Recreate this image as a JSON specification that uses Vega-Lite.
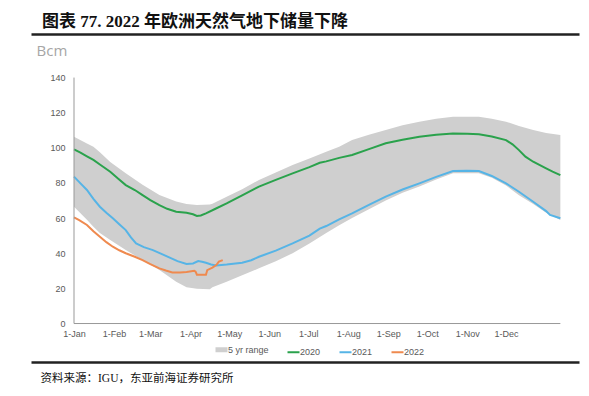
{
  "$schema": "https://vega.github.io/schema/vega-lite/v6.json",
  "width": 548,
  "height": 328,
  "autosize": {"type": "none"},
  "padding": {"left": 31, "top": 34, "right": 10, "bottom": 34},
  "background": "white",
  "title": {
    "text": "图表 77. 2022 年欧洲天然气地下储量下降",
    "anchor": "start",
    "frame": "group",
    "dx": 11,
    "offset": 3,
    "font": "'Liberation Serif', 'Noto Sans CJK SC'",
    "fontSize": 17,
    "fontWeight": "bold",
    "color": "#111111"
  },
  "datasets": {
    "band": [
      {"date": "2022-01-01", "lo": 66.5, "hi": 106.3},
      {"date": "2022-01-11", "lo": 59.0, "hi": 102.5},
      {"date": "2022-01-16", "lo": 55.1, "hi": 100.6},
      {"date": "2022-01-21", "lo": 51.5, "hi": 97.5},
      {"date": "2022-01-29", "lo": 47.5, "hi": 92.0},
      {"date": "2022-02-10", "lo": 41.8, "hi": 85.5},
      {"date": "2022-02-23", "lo": 36.1, "hi": 79.0},
      {"date": "2022-03-08", "lo": 30.4, "hi": 73.1},
      {"date": "2022-03-21", "lo": 23.8, "hi": 69.5},
      {"date": "2022-03-29", "lo": 20.6, "hi": 68.0},
      {"date": "2022-04-06", "lo": 19.8, "hi": 67.4},
      {"date": "2022-04-16", "lo": 19.5, "hi": 67.8},
      {"date": "2022-04-18", "lo": 20.6, "hi": 68.2},
      {"date": "2022-04-29", "lo": 23.8, "hi": 72.2},
      {"date": "2022-05-11", "lo": 27.5, "hi": 76.5},
      {"date": "2022-05-24", "lo": 31.4, "hi": 81.7},
      {"date": "2022-06-06", "lo": 35.5, "hi": 86.0},
      {"date": "2022-06-19", "lo": 40.0, "hi": 90.2},
      {"date": "2022-07-02", "lo": 45.5, "hi": 94.0},
      {"date": "2022-07-15", "lo": 51.5, "hi": 97.8},
      {"date": "2022-07-25", "lo": 56.0, "hi": 100.6},
      {"date": "2022-08-04", "lo": 60.0, "hi": 104.4},
      {"date": "2022-08-17", "lo": 65.0, "hi": 107.5},
      {"date": "2022-08-30", "lo": 70.0, "hi": 110.1},
      {"date": "2022-09-12", "lo": 74.5, "hi": 112.8},
      {"date": "2022-09-25", "lo": 78.0, "hi": 114.9},
      {"date": "2022-10-08", "lo": 82.0, "hi": 116.5},
      {"date": "2022-10-21", "lo": 85.5, "hi": 117.7},
      {"date": "2022-11-10", "lo": 85.5, "hi": 117.7},
      {"date": "2022-11-20", "lo": 83.0, "hi": 116.5},
      {"date": "2022-12-01", "lo": 78.5, "hi": 114.9},
      {"date": "2022-12-11", "lo": 73.0, "hi": 112.5},
      {"date": "2022-12-22", "lo": 68.0, "hi": 110.1},
      {"date": "2023-01-01", "lo": 63.0, "hi": 108.5},
      {"date": "2023-01-12", "lo": 58.9, "hi": 107.3}
    ],
    "lines": [
      {"date": "2022-01-01", "series": "2020", "value": 99.1},
      {"date": "2022-01-06", "series": "2020", "value": 97.3},
      {"date": "2022-01-11", "series": "2020", "value": 95.2},
      {"date": "2022-01-16", "series": "2020", "value": 93.1},
      {"date": "2022-01-21", "series": "2020", "value": 90.5},
      {"date": "2022-01-29", "series": "2020", "value": 86.4},
      {"date": "2022-02-04", "series": "2020", "value": 82.5},
      {"date": "2022-02-10", "series": "2020", "value": 78.8},
      {"date": "2022-02-17", "series": "2020", "value": 76.0},
      {"date": "2022-02-23", "series": "2020", "value": 73.1},
      {"date": "2022-03-01", "series": "2020", "value": 70.3},
      {"date": "2022-03-08", "series": "2020", "value": 67.4},
      {"date": "2022-03-14", "series": "2020", "value": 65.3},
      {"date": "2022-03-21", "series": "2020", "value": 63.6},
      {"date": "2022-03-29", "series": "2020", "value": 63.1},
      {"date": "2022-04-03", "series": "2020", "value": 62.2},
      {"date": "2022-04-06", "series": "2020", "value": 61.2},
      {"date": "2022-04-09", "series": "2020", "value": 61.5},
      {"date": "2022-04-13", "series": "2020", "value": 62.7},
      {"date": "2022-04-20", "series": "2020", "value": 65.2},
      {"date": "2022-04-29", "series": "2020", "value": 68.4},
      {"date": "2022-05-11", "series": "2020", "value": 73.0},
      {"date": "2022-05-24", "series": "2020", "value": 77.9},
      {"date": "2022-06-06", "series": "2020", "value": 81.8},
      {"date": "2022-06-19", "series": "2020", "value": 85.5},
      {"date": "2022-07-02", "series": "2020", "value": 89.0},
      {"date": "2022-07-10", "series": "2020", "value": 91.5},
      {"date": "2022-07-15", "series": "2020", "value": 92.3},
      {"date": "2022-07-25", "series": "2020", "value": 94.3},
      {"date": "2022-08-04", "series": "2020", "value": 95.9},
      {"date": "2022-08-17", "series": "2020", "value": 99.3},
      {"date": "2022-08-30", "series": "2020", "value": 102.6},
      {"date": "2022-09-12", "series": "2020", "value": 104.6},
      {"date": "2022-09-25", "series": "2020", "value": 106.3},
      {"date": "2022-10-08", "series": "2020", "value": 107.4},
      {"date": "2022-10-21", "series": "2020", "value": 108.2},
      {"date": "2022-11-01", "series": "2020", "value": 108.0},
      {"date": "2022-11-10", "series": "2020", "value": 107.7},
      {"date": "2022-11-20", "series": "2020", "value": 106.5},
      {"date": "2022-12-01", "series": "2020", "value": 104.4},
      {"date": "2022-12-06", "series": "2020", "value": 102.0},
      {"date": "2022-12-11", "series": "2020", "value": 98.7},
      {"date": "2022-12-16", "series": "2020", "value": 95.0},
      {"date": "2022-12-22", "series": "2020", "value": 92.1},
      {"date": "2023-01-01", "series": "2020", "value": 88.3},
      {"date": "2023-01-06", "series": "2020", "value": 86.5},
      {"date": "2023-01-12", "series": "2020", "value": 84.5},
      {"date": "2022-01-01", "series": "2021", "value": 83.6},
      {"date": "2022-01-06", "series": "2021", "value": 79.8},
      {"date": "2022-01-11", "series": "2021", "value": 76.0},
      {"date": "2022-01-16", "series": "2021", "value": 71.0},
      {"date": "2022-01-21", "series": "2021", "value": 66.5},
      {"date": "2022-01-26", "series": "2021", "value": 63.0},
      {"date": "2022-01-31", "series": "2021", "value": 59.9},
      {"date": "2022-02-05", "series": "2021", "value": 56.5},
      {"date": "2022-02-10", "series": "2021", "value": 53.2},
      {"date": "2022-02-14", "series": "2021", "value": 49.0},
      {"date": "2022-02-18", "series": "2021", "value": 45.6},
      {"date": "2022-02-24", "series": "2021", "value": 43.5},
      {"date": "2022-03-03", "series": "2021", "value": 41.8},
      {"date": "2022-03-10", "series": "2021", "value": 39.5},
      {"date": "2022-03-16", "series": "2021", "value": 37.5},
      {"date": "2022-03-22", "series": "2021", "value": 35.5},
      {"date": "2022-03-29", "series": "2021", "value": 33.9},
      {"date": "2022-04-03", "series": "2021", "value": 34.2},
      {"date": "2022-04-07", "series": "2021", "value": 35.6},
      {"date": "2022-04-10", "series": "2021", "value": 35.2},
      {"date": "2022-04-13", "series": "2021", "value": 34.6},
      {"date": "2022-04-17", "series": "2021", "value": 33.6},
      {"date": "2022-04-21", "series": "2021", "value": 33.1},
      {"date": "2022-04-29", "series": "2021", "value": 33.6},
      {"date": "2022-05-11", "series": "2021", "value": 34.6},
      {"date": "2022-05-18", "series": "2021", "value": 36.0},
      {"date": "2022-05-24", "series": "2021", "value": 38.0},
      {"date": "2022-06-06", "series": "2021", "value": 41.5},
      {"date": "2022-06-19", "series": "2021", "value": 45.6},
      {"date": "2022-07-02", "series": "2021", "value": 50.0},
      {"date": "2022-07-10", "series": "2021", "value": 54.0},
      {"date": "2022-07-15", "series": "2021", "value": 55.5},
      {"date": "2022-07-25", "series": "2021", "value": 59.3},
      {"date": "2022-08-04", "series": "2021", "value": 62.7},
      {"date": "2022-08-17", "series": "2021", "value": 67.5},
      {"date": "2022-08-30", "series": "2021", "value": 72.2},
      {"date": "2022-09-12", "series": "2021", "value": 76.3},
      {"date": "2022-09-25", "series": "2021", "value": 79.8},
      {"date": "2022-10-08", "series": "2021", "value": 83.5},
      {"date": "2022-10-21", "series": "2021", "value": 86.8},
      {"date": "2022-11-01", "series": "2021", "value": 87.0},
      {"date": "2022-11-10", "series": "2021", "value": 86.8},
      {"date": "2022-11-20", "series": "2021", "value": 84.0},
      {"date": "2022-12-01", "series": "2021", "value": 79.8},
      {"date": "2022-12-11", "series": "2021", "value": 75.0},
      {"date": "2022-12-22", "series": "2021", "value": 69.3},
      {"date": "2023-01-01", "series": "2021", "value": 64.0},
      {"date": "2023-01-04", "series": "2021", "value": 61.8},
      {"date": "2023-01-12", "series": "2021", "value": 59.9},
      {"date": "2022-01-01", "series": "2022", "value": 60.4},
      {"date": "2022-01-05", "series": "2022", "value": 58.8},
      {"date": "2022-01-11", "series": "2022", "value": 56.1},
      {"date": "2022-01-16", "series": "2022", "value": 52.5},
      {"date": "2022-01-21", "series": "2022", "value": 49.4},
      {"date": "2022-01-26", "series": "2022", "value": 46.3},
      {"date": "2022-01-31", "series": "2022", "value": 43.7},
      {"date": "2022-02-05", "series": "2022", "value": 41.7},
      {"date": "2022-02-10", "series": "2022", "value": 40.0},
      {"date": "2022-02-17", "series": "2022", "value": 38.0},
      {"date": "2022-02-23", "series": "2022", "value": 36.1},
      {"date": "2022-03-01", "series": "2022", "value": 33.8},
      {"date": "2022-03-08", "series": "2022", "value": 31.4},
      {"date": "2022-03-13", "series": "2022", "value": 30.2},
      {"date": "2022-03-18", "series": "2022", "value": 29.1},
      {"date": "2022-03-24", "series": "2022", "value": 29.0},
      {"date": "2022-03-29", "series": "2022", "value": 29.3},
      {"date": "2022-04-04", "series": "2022", "value": 30.0},
      {"date": "2022-04-05", "series": "2022", "value": 29.5},
      {"date": "2022-04-06", "series": "2022", "value": 27.8},
      {"date": "2022-04-13", "series": "2022", "value": 27.8},
      {"date": "2022-04-14", "series": "2022", "value": 30.4},
      {"date": "2022-04-18", "series": "2022", "value": 31.8},
      {"date": "2022-04-21", "series": "2022", "value": 33.3},
      {"date": "2022-04-23", "series": "2022", "value": 35.2},
      {"date": "2022-04-26", "series": "2022", "value": 36.1}
    ],
    "axislines": [
      {"start": "2022-01-01", "end": "2022-01-01", "low": 0, "high": 140},
      {"start": "2022-01-01", "end": "2023-01-12", "low": 0, "high": 0}
    ]
  },
  "layer": [
    {
      "data": {"name": "band"},
      "mark": {"type": "area", "color": "#cfcfcf", "opacity": 1},
      "encoding": {
        "x": {
          "field": "date",
          "type": "temporal",
          "scale": {
            "type": "utc",
            "domain": [
              {"year": 2021, "month": 11, "date": 28, "hours": 18, "utc": true},
              {"year": 2023, "month": 1, "date": 26, "hours": 10, "utc": true}
            ]
          },
          "axis": {
            "orient": "bottom",
            "offset": -40,
            "domain": false,
            "ticks": false,
            "grid": false,
            "labelFlush": false,
            "labelOverlap": false,
            "labelPadding": 7,
            "labelFont": "Liberation Sans",
            "labelFontSize": 9,
            "labelColor": "#595959",
            "format": "%-d-%b",
            "title": null,
            "values": [
              {"year": 2022, "month": 1, "date": 1, "utc": true},
              {"year": 2022, "month": 2, "date": 1, "utc": true},
              {"year": 2022, "month": 3, "date": 1, "utc": true},
              {"year": 2022, "month": 4, "date": 1, "utc": true},
              {"year": 2022, "month": 5, "date": 1, "utc": true},
              {"year": 2022, "month": 6, "date": 1, "utc": true},
              {"year": 2022, "month": 7, "date": 1, "utc": true},
              {"year": 2022, "month": 8, "date": 1, "utc": true},
              {"year": 2022, "month": 9, "date": 1, "utc": true},
              {"year": 2022, "month": 10, "date": 1, "utc": true},
              {"year": 2022, "month": 11, "date": 1, "utc": true},
              {"year": 2022, "month": 12, "date": 1, "utc": true}
            ]
          }
        },
        "y": {
          "field": "lo",
          "type": "quantitative",
          "scale": {"domain": [-21.9, 164.8], "nice": false, "zero": false},
          "axis": {
            "orient": "left",
            "offset": -43,
            "values": [0, 20, 40, 60, 80, 100, 120, 140],
            "domain": false,
            "ticks": false,
            "grid": false,
            "labelFlush": false,
            "labelPadding": 9,
            "labelFont": "Liberation Sans",
            "labelFontSize": 9,
            "labelColor": "#595959",
            "title": "Bcm",
            "titleAngle": 0,
            "titleAlign": "left",
            "titleBaseline": "alphabetic",
            "titleX": -38,
            "titleY": 21,
            "titleFont": "Open Sans",
            "titleFontSize": 15,
            "titleFontWeight": "normal",
            "titleColor": "#a6a6a6"
          }
        },
        "y2": {"field": "hi"},
        "color": {
          "datum": "5 yr range",
          "type": "nominal",
          "scale": {
            "domain": ["5 yr range", "2020", "2021", "2022"],
            "range": ["#cfcfcf", "#2aa24c", "#56b4e6", "#ef8a4f"]
          },
          "legend": {
            "orient": "none",
            "legendX": 186,
            "legendY": 311,
            "direction": "horizontal",
            "title": null,
            "padding": 0,
            "symbolType": "stroke",
            "symbolSize": 144,
            "symbolStrokeWidth": 2,
            "labelFont": "Liberation Sans",
            "labelFontSize": 9,
            "labelColor": "#595959",
            "labelOffset": 2,
            "columnPadding": 14,
            "encode": {
              "symbols": {
                "update": {
                  "stroke": {"scale": "color", "field": "value"},
                  "strokeWidth": {"signal": "datum.value === '5 yr range' ? 5 : 2"}
                }
              }
            }
          }
        }
      }
    },
    {
      "data": {"name": "lines"},
      "mark": {"type": "line", "strokeWidth": 2},
      "encoding": {
        "x": {
          "field": "date",
          "type": "temporal",
          "axis": {
            "orient": "top",
            "offset": 0,
            "domain": true,
            "domainColor": "#222222",
            "domainWidth": 2.5,
            "labels": false,
            "ticks": false,
            "grid": false,
            "title": null
          }
        },
        "y": {"field": "value", "type": "quantitative"},
        "color": {
          "field": "series",
          "type": "nominal",
          "scale": {
            "domain": ["5 yr range", "2020", "2021", "2022"],
            "range": ["#cfcfcf", "#2aa24c", "#56b4e6", "#ef8a4f"]
          },
          "legend": {
            "orient": "none",
            "legendX": 186,
            "legendY": 311,
            "direction": "horizontal",
            "title": null,
            "padding": 0,
            "symbolType": "stroke",
            "symbolSize": 144,
            "symbolStrokeWidth": 2,
            "labelFont": "Liberation Sans",
            "labelFontSize": 9,
            "labelColor": "#595959",
            "labelOffset": 2,
            "columnPadding": 14,
            "encode": {
              "symbols": {
                "update": {
                  "stroke": {"scale": "color", "field": "value"},
                  "strokeWidth": {"signal": "datum.value === '5 yr range' ? 5 : 2"}
                }
              }
            }
          }
        }
      }
    },
    {
      "data": {"name": "axislines"},
      "mark": {"type": "rule", "color": "#999999", "strokeWidth": 1},
      "encoding": {
        "x": {
          "field": "start",
          "type": "temporal",
          "axis": {
            "orient": "bottom",
            "offset": 0,
            "domain": true,
            "domainColor": "#222222",
            "domainWidth": 2.5,
            "labels": false,
            "ticks": false,
            "grid": false,
            "title": "资料来源：IGU，东亚前海证券研究所",
            "titleX": 9,
            "titleY": 16,
            "titleAlign": "left",
            "titleBaseline": "middle",
            "titleFont": "'Liberation Serif', 'Noto Sans CJK SC'",
            "titleFontSize": 11.5,
            "titleFontWeight": "normal",
            "titleColor": "#111111"
          }
        },
        "x2": {"field": "end"},
        "y": {"field": "low", "type": "quantitative"},
        "y2": {"field": "high"}
      }
    }
  ],
  "resolve": {"axis": {"x": "independent"}},
  "config": {"view": {"stroke": null}}
}
